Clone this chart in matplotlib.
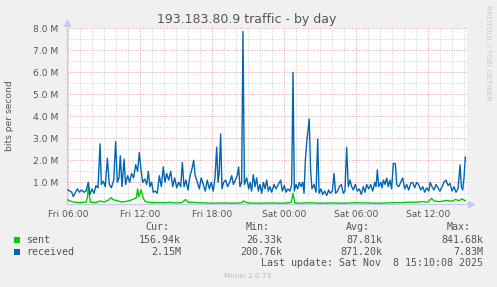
import matplotlib
matplotlib.use("Agg")
import matplotlib.pyplot as plt
from matplotlib.patches import Rectangle
from matplotlib.ticker import MultipleLocator

W, H = 497, 287

# hours since Fri 06:00, traffic in Mbit/s
recv_hours = [0, 0.17, 0.31, 0.44, 0.58, 0.78, 0.94, 1.14, 1.33, 1.5, 1.69, 1.83,
              2.0, 2.17, 2.33, 2.5, 2.67, 2.78, 2.94, 3.11, 3.28, 3.44, 3.61, 3.81,
              3.97, 4.11, 4.25, 4.36, 4.5, 4.67, 4.8, 4.97, 5.14, 5.3, 5.47, 5.64,
              5.8, 5.94, 6.08, 6.22, 6.39, 6.56, 6.69, 6.83, 6.97, 7.1, 7.28, 7.44,
              7.61, 7.78, 7.94, 8.08, 8.22, 8.39, 8.56, 8.72, 8.89, 9.06, 9.22, 9.39,
              9.53, 9.67, 9.83, 10.0, 10.17, 10.33, 10.47, 10.6, 10.78, 10.94, 11.1,
              11.28, 11.44, 11.6, 11.78, 11.94, 12.1, 12.25, 12.39, 12.5, 12.6, 12.72,
              12.83, 12.97, 13.14, 13.3, 13.47, 13.64, 13.78, 13.94, 14.1, 14.22,
              14.33, 14.47, 14.58, 14.7, 14.89, 15.06, 15.17, 15.3, 15.44, 15.58,
              15.72, 15.86, 16.0, 16.14, 16.28, 16.42, 16.56, 16.69, 16.83, 16.97,
              17.17, 17.33, 17.53, 17.72, 17.86, 18.03, 18.17, 18.33, 18.5, 18.64,
              18.75, 18.86, 19.0, 19.14, 19.28, 19.42, 19.56, 19.67, 19.78, 19.89,
              20.1, 20.22, 20.33, 20.5, 20.67, 20.81, 20.92, 21.08, 21.22, 21.39,
              21.56, 21.72, 21.86, 22.03, 22.17, 22.3, 22.47, 22.61, 22.78, 22.94,
              23.08, 23.22, 23.36, 23.5, 23.64, 23.78, 23.94, 24.11, 24.28, 24.44,
              24.61, 24.75, 24.89, 25.06, 25.22, 25.39, 25.56, 25.67, 25.78, 25.89,
              26.06, 26.17, 26.28, 26.42, 26.56, 26.69, 26.83, 26.97, 27.11, 27.28,
              27.39, 27.56, 27.72, 27.89, 28.06, 28.22, 28.39, 28.56, 28.72, 28.89,
              29.06, 29.22, 29.39, 29.56, 29.72, 29.89, 30.06, 30.19, 30.33, 30.5,
              30.67, 30.83, 31.0, 31.17, 31.33, 31.5, 31.67, 31.83, 32.0, 32.17,
              32.33, 32.5, 32.67, 32.78, 32.89, 33.0, 33.11]
recv_mbit = [0.65, 0.6, 0.55, 0.35, 0.5, 0.7, 0.55, 0.65, 0.55, 0.6, 1.0, 0.45,
             0.7, 0.5, 0.85, 0.75, 2.75, 0.9, 1.05, 0.8, 2.1, 0.9, 0.75, 1.1,
             2.85, 1.0, 1.2, 2.2, 0.8, 2.05, 0.9, 1.3, 1.0, 1.4, 1.2, 1.8,
             1.5, 2.35, 1.6, 1.0, 1.15, 0.9, 1.5, 0.8, 1.0, 0.55, 0.6, 0.5,
             1.3, 0.8, 1.7, 1.0, 1.4, 1.1, 1.5, 0.8, 1.2, 0.75, 1.0, 0.8,
             1.9, 0.8, 1.1, 0.65, 1.3, 1.6, 2.0, 1.3, 1.0, 0.7, 1.2,
             0.9, 0.6, 1.1, 0.7, 1.0, 0.6, 1.2, 2.6, 1.0, 1.4, 3.2,
             0.7, 1.0, 1.1, 0.8, 1.0, 1.3, 0.9, 1.1, 1.3, 1.7,
             0.8, 1.0, 7.85, 0.9, 1.2, 0.7, 1.0, 0.6, 1.35, 0.8,
             1.2, 0.6, 0.9, 0.5, 1.0, 0.7, 1.1, 0.6, 0.8, 0.55,
             0.9, 0.7, 0.9, 1.1, 0.6, 0.85, 0.55, 0.7, 0.6, 0.9,
             6.0, 0.6, 0.9, 0.7, 1.0, 0.8, 1.0, 0.5, 2.0, 2.8,
             3.88, 1.5, 0.7, 0.9, 0.55, 2.97, 0.5, 0.7, 0.45, 0.6,
             0.4, 0.65, 0.5, 0.6, 1.4, 0.5, 0.6, 0.8, 0.9, 0.5,
             0.6, 2.59, 0.8, 1.1, 0.8, 0.65, 0.9, 0.6, 0.7, 0.45,
             0.8, 0.55, 0.9, 0.7, 0.9, 0.6, 1.0, 0.8, 1.56, 0.8,
             1.0, 0.75, 1.1, 0.9, 1.2, 0.8, 1.1, 0.7, 1.86, 1.85,
             0.9, 0.8, 1.0, 1.2, 0.7, 0.9, 0.65, 0.95, 1.0, 0.75,
             1.0, 0.9, 0.65, 0.8, 0.55, 0.75, 0.6, 1.0, 0.8, 0.65,
             0.9, 0.75, 0.6, 0.8, 1.0, 1.1, 0.85, 0.95, 0.6, 0.8,
             0.55, 0.7, 1.79, 0.8, 0.65, 1.2, 2.15]

sent_hours = [0, 0.3, 0.5, 1.0, 1.5, 1.62, 1.7, 1.85, 2.3, 2.7, 3.0, 3.4, 3.6,
              3.8, 4.2, 4.5, 5.0, 5.3, 5.5, 5.7, 5.8, 5.9, 6.0, 6.1, 6.25, 6.4,
              6.6, 7.0, 8.0, 8.5, 9.0, 9.5, 9.8, 10.0, 11.0, 12.0, 13.0, 14.0,
              14.5, 14.6, 15.0, 16.0, 17.0, 18.0, 18.6, 18.75, 18.9, 19.5, 20.0,
              21.0, 22.0, 23.0, 24.0, 25.0, 26.0, 27.0, 28.0, 28.5, 29.0, 29.5,
              30.0, 30.3, 30.5, 31.0, 31.5, 32.0, 32.3, 32.6, 32.8, 33.11]
sent_mbit = [0.2, 0.12, 0.1, 0.08, 0.1, 0.3, 0.84, 0.1, 0.08, 0.15, 0.1, 0.2, 0.3,
             0.2, 0.15, 0.1, 0.15, 0.2, 0.25, 0.3, 0.7, 0.35, 0.5, 0.65, 0.3, 0.15,
             0.1, 0.08, 0.07, 0.09, 0.06, 0.08, 0.22, 0.1, 0.07, 0.05, 0.06, 0.05,
             0.07, 0.15, 0.06, 0.05, 0.06, 0.05, 0.08, 0.5, 0.06, 0.05, 0.07,
             0.05, 0.06, 0.05, 0.07, 0.06, 0.05, 0.07, 0.08, 0.1, 0.09, 0.12,
             0.1, 0.27, 0.15, 0.12, 0.18, 0.14, 0.22, 0.16, 0.25, 0.157]

tick_hours = [0, 6, 12, 18, 24, 30]
tick_labels = ["Fri 06:00", "Fri 12:00", "Fri 18:00", "Sat 00:00", "Sat 06:00", "Sat 12:00"]

legend_rows = [
    ("sent", "#00CC00", ["156.94k", "26.33k", "87.81k", "841.68k"]),
    ("received", "#0066B3", ["2.15M", "200.76k", "871.20k", "7.83M"]),
]
legend_cols = ["Cur:", "Min:", "Avg:", "Max:"]

txt = "#555555"
fig = plt.figure(figsize=(W / 100, H / 100), dpi=100, facecolor="#F0F0F0")


def px(x, y):
    return x / W, 1 - y / H


ax = fig.add_axes([67 / W, 1 - 204.3 / H, 400 / W, 176 / H])
ax.set_facecolor("white")
ax.plot(sent_hours, sent_mbit, color="#00CC00", lw=1.0, zorder=3)
ax.plot(recv_hours, recv_mbit, color="#0066B3", lw=1.0, zorder=4)
ax.set_xlim(-1 / 12, 399 / 12)
ax.set_ylim(0, 8)

ax.xaxis.set_major_locator(MultipleLocator(6))
ax.xaxis.set_minor_locator(MultipleLocator(1))
ax.yaxis.set_major_locator(MultipleLocator(1))
ax.yaxis.set_minor_locator(MultipleLocator(0.5))
ax.set_xticks(tick_hours)
ax.set_xticklabels(tick_labels)
ax.set_yticks(range(1, 9))
ax.set_yticklabels(["%.1f M" % v for v in range(1, 9)])
ax.grid(which="minor", color="#D0D0D0", lw=0.7, ls=(0, (1, 1.5)), zorder=1)
ax.grid(which="major", color="#E8A0A0", lw=0.7, ls=(0, (1, 1.5)), zorder=2)
ax.tick_params(which="both", length=0, labelsize=6.6, labelcolor=txt, pad=4)
ax.tick_params(axis="y", pad=6)
for s in ["top", "right"]:
    ax.spines[s].set_visible(False)
for s in ["left", "bottom"]:
    ax.spines[s].set_color("#C8C8F0")
    ax.spines[s].set_linewidth(0.8)
ax.plot([0], [1.03], marker="^", ms=5, color="#C8C8F0", transform=ax.transAxes, clip_on=False)
ax.plot([1.01], [0], marker=">", ms=5, color="#C8C8F0", transform=ax.transAxes, clip_on=False)

fig.text(*px(247, 19.5), "193.183.80.9 traffic - by day", ha="center", va="center",
         fontsize=9, color=txt)
fig.text(*px(10, 116), "bits per second", rotation=90, ha="center", va="center",
         fontsize=6.6, color=txt)
fig.text(*px(488, 53), "RRDTOOL / TOBI OETIKER", rotation=270, ha="center", va="center",
         fontsize=5.4, color="#C8C8C8")

mono = "DejaVu Sans Mono"
col_left = [145, 246, 346, 447]
col_right = [181, 282, 382, 483]
for x, c in zip(col_left, legend_cols):
    fig.text(*px(x, 227.5), c, ha="left", va="center", fontsize=7.2, family=mono, color=txt)
for i, (name, color, vals) in enumerate(legend_rows):
    y = 240 + i * 11.7
    fig.patches.append(Rectangle(px(14, y + 3), 6 / W, 6 / H, transform=fig.transFigure,
                                 facecolor=color, edgecolor="none"))
    fig.text(*px(26, y), name, ha="left", va="center", fontsize=7.2, family=mono, color=txt)
    for x, v in zip(col_right, vals):
        fig.text(*px(x, y), v, ha="right", va="center", fontsize=7.2, family=mono, color=txt)
fig.text(*px(483, 263.5), "Last update: Sat Nov  8 15:10:08 2025", ha="right", va="center",
         fontsize=7.2, family=mono, color=txt)
fig.text(*px(248, 276), "Munin 2.0.73", ha="center", va="center", fontsize=5.2, color="#BBBBBB")

fig.savefig("out.png", dpi=100, facecolor=fig.get_facecolor())
